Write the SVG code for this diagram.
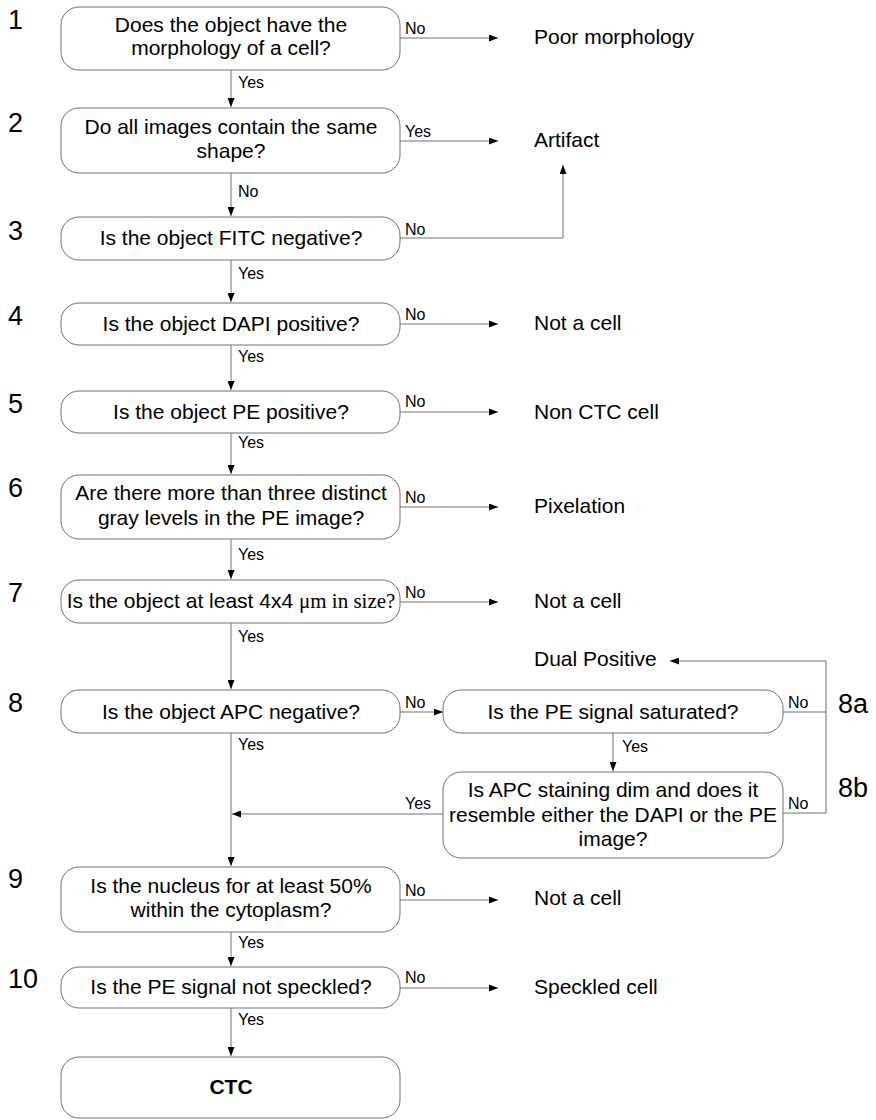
<svg xmlns="http://www.w3.org/2000/svg" width="876" height="1120" viewBox="0 0 876 1120">
<style>
.box{fill:#fff;stroke:#707070;stroke-width:1}
.q{font-family:"Liberation Sans",Arial,sans-serif;font-size:21px;fill:#000;text-anchor:middle}
.out{font-family:"Liberation Sans",Arial,sans-serif;font-size:21px;fill:#000}
.lbl{font-family:"Liberation Sans",Arial,sans-serif;font-size:16px;fill:#000}
.num{font-family:"Liberation Sans",Arial,sans-serif;font-size:27px;fill:#000}
.ln{fill:none;stroke:#707070;stroke-width:1}
</style>
<defs>
<marker id="ah" markerWidth="9" markerHeight="7" refX="9" refY="3.5" orient="auto" markerUnits="userSpaceOnUse">
<path d="M0,0 L9,3.5 L0,7 z" fill="#000"/>
</marker>
</defs>
<rect width="876" height="1120" fill="#fff"/>

<g id="connectors">
<path class="ln" d="M400,38 H498" marker-end="url(#ah)"/>
<path class="ln" d="M231,70 V107" marker-end="url(#ah)"/>
<path class="ln" d="M400,141 H498" marker-end="url(#ah)"/>
<path class="ln" d="M231,173 V216" marker-end="url(#ah)"/>
<path class="ln" d="M400,238 H563 V165" marker-end="url(#ah)"/>
<path class="ln" d="M231,260 V302" marker-end="url(#ah)"/>
<path class="ln" d="M400,324 H498" marker-end="url(#ah)"/>
<path class="ln" d="M231,345 V390" marker-end="url(#ah)"/>
<path class="ln" d="M400,412 H498" marker-end="url(#ah)"/>
<path class="ln" d="M231,433 V474" marker-end="url(#ah)"/>
<path class="ln" d="M400,507 H498" marker-end="url(#ah)"/>
<path class="ln" d="M231,539 V579" marker-end="url(#ah)"/>
<path class="ln" d="M400,602 H498" marker-end="url(#ah)"/>
<path class="ln" d="M231,623 V689" marker-end="url(#ah)"/>
<path class="ln" d="M400,712 H443" marker-end="url(#ah)"/>
<path class="ln" d="M783,712 H826"/>
<path class="ln" d="M783,813 H826 V661 H670" marker-end="url(#ah)"/>
<path class="ln" d="M613,733 V771" marker-end="url(#ah)"/>
<path class="ln" d="M443,814 H232" marker-end="url(#ah)"/>
<path class="ln" d="M231,733 V866" marker-end="url(#ah)"/>
<path class="ln" d="M400,900 H498" marker-end="url(#ah)"/>
<path class="ln" d="M231,932 V966" marker-end="url(#ah)"/>
<path class="ln" d="M400,988 H498" marker-end="url(#ah)"/>
<path class="ln" d="M231,1008 V1056" marker-end="url(#ah)"/>
<text class="lbl" x="405" y="34">No</text>
<text class="lbl" x="238" y="88">Yes</text>
<text class="lbl" x="405" y="137">Yes</text>
<text class="lbl" x="238" y="197">No</text>
<text class="lbl" x="405" y="235">No</text>
<text class="lbl" x="238" y="279">Yes</text>
<text class="lbl" x="405" y="320">No</text>
<text class="lbl" x="238" y="362">Yes</text>
<text class="lbl" x="405" y="407">No</text>
<text class="lbl" x="238" y="448">Yes</text>
<text class="lbl" x="405" y="503">No</text>
<text class="lbl" x="238" y="560">Yes</text>
<text class="lbl" x="405" y="598">No</text>
<text class="lbl" x="238" y="642">Yes</text>
<text class="lbl" x="405" y="708">No</text>
<text class="lbl" x="238" y="750">Yes</text>
<text class="lbl" x="788" y="708">No</text>
<text class="lbl" x="622" y="752">Yes</text>
<text class="lbl" x="405" y="809">Yes</text>
<text class="lbl" x="788" y="809">No</text>
<text class="lbl" x="405" y="896">No</text>
<text class="lbl" x="238" y="948">Yes</text>
<text class="lbl" x="405" y="983">No</text>
<text class="lbl" x="238" y="1025">Yes</text>
</g>

<g id="n1"><text class="num" x="8" y="29">1</text><rect class="box" x="61" y="7" width="339" height="63" rx="18"/><text class="q" x="231" y="32">Does the object have the</text><text class="q" x="231" y="55">morphology of a cell?</text></g>
<g id="n2"><text class="num" x="8" y="132">2</text><rect class="box" x="61" y="108" width="339" height="65" rx="18"/><text class="q" x="231" y="134">Do all images contain the same</text><text class="q" x="231" y="158">shape?</text></g>
<g id="n3"><text class="num" x="8" y="240">3</text><rect class="box" x="61" y="217" width="339" height="43" rx="18"/><text class="q" x="231" y="245">Is the object FITC negative?</text></g>
<g id="n4"><text class="num" x="8" y="325">4</text><rect class="box" x="61" y="303" width="339" height="42" rx="18"/><text class="q" x="231" y="331">Is the object DAPI positive?</text></g>
<g id="n5"><text class="num" x="8" y="413">5</text><rect class="box" x="61" y="391" width="339" height="42" rx="18"/><text class="q" x="231" y="419">Is the object PE positive?</text></g>
<g id="n6"><text class="num" x="8" y="497">6</text><rect class="box" x="61" y="475" width="339" height="64" rx="18"/><text class="q" x="231" y="500">Are there more than three distinct</text><text class="q" x="231" y="525">gray levels in the PE image?</text></g>
<g id="n7"><text class="num" x="8" y="602">7</text><rect class="box" x="61" y="580" width="339" height="43" rx="18"/><text class="q" x="231" y="608"><tspan>Is the object at least 4x4 </tspan><tspan font-family="Liberation Serif, 'Times New Roman', serif">μm in size?</tspan></text></g>
<g id="n8"><text class="num" x="8" y="712">8</text><rect class="box" x="61" y="690" width="339" height="43" rx="18"/><text class="q" x="231" y="719">Is the object APC negative?</text></g>
<g id="n8a"><text class="num" x="838" y="713">8a</text><rect class="box" x="443" y="690" width="340" height="43" rx="18"/><text class="q" x="613" y="719">Is the PE signal saturated?</text></g>
<g id="n8b"><text class="num" x="838" y="797">8b</text><rect class="box" x="443" y="772" width="340" height="86" rx="18"/><text class="q" x="613" y="797">Is APC staining dim and does it</text><text class="q" x="613" y="822">resemble either the DAPI or the PE</text><text class="q" x="613" y="846">image?</text></g>
<g id="n9"><text class="num" x="8" y="888">9</text><rect class="box" x="61" y="867" width="339" height="65" rx="18"/><text class="q" x="231" y="893">Is the nucleus for at least 50%</text><text class="q" x="231" y="917">within the cytoplasm?</text></g>
<g id="n10"><text class="num" x="8" y="988">10</text><rect class="box" x="61" y="967" width="339" height="41" rx="18"/><text class="q" x="231" y="994">Is the PE signal not speckled?</text></g>
<g id="ctc"><rect class="box" x="61" y="1057" width="339" height="61" rx="18"/><text class="q" x="231" y="1094" font-weight="bold" font-size="19">CTC</text></g>

<g id="o1"><text class="out" x="534" y="44">Poor morphology</text></g>
<g id="o2"><text class="out" x="534" y="147">Artifact</text></g>
<g id="o4"><text class="out" x="534" y="330">Not a cell</text></g>
<g id="o5"><text class="out" x="534" y="419">Non CTC cell</text></g>
<g id="o6"><text class="out" x="534" y="513">Pixelation</text></g>
<g id="o7"><text class="out" x="534" y="608">Not a cell</text></g>
<g id="o8"><text class="out" x="534" y="666">Dual Positive</text></g>
<g id="o9"><text class="out" x="534" y="905">Not a cell</text></g>
<g id="o10"><text class="out" x="534" y="994">Speckled cell</text></g>
</svg>
